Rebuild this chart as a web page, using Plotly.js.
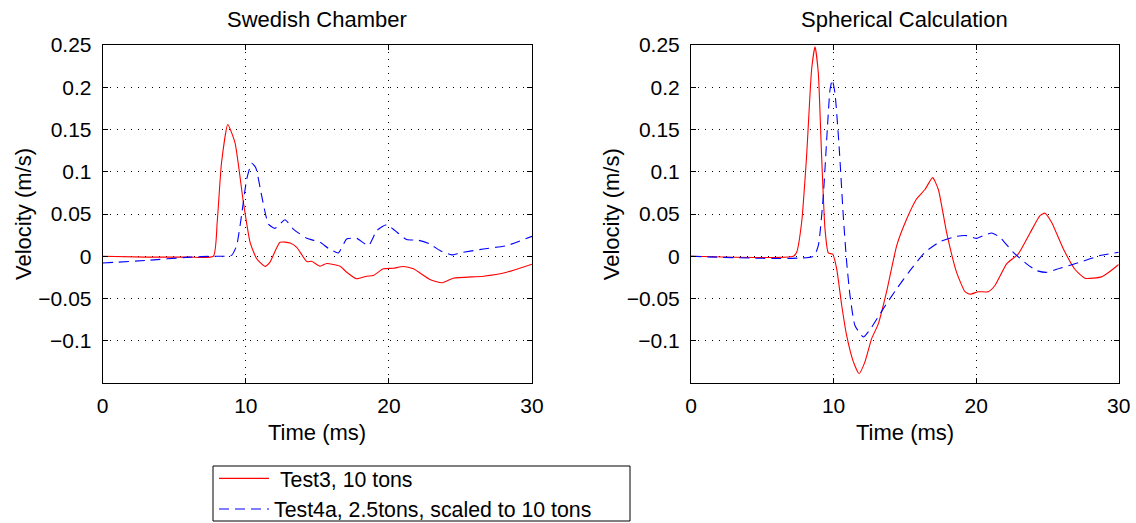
<!DOCTYPE html>
<html><head><meta charset="utf-8">
<script src="https://cdn.plot.ly/plotly-3.0.1.min.js"></script>
<style>html,body{margin:0;padding:0;background:#fff}#chart{width:1136px;height:523px}</style>
</head><body><div id="chart"></div>
<script>
// Swedish Chamber
const swedTest3T = [0,3,6,7.73,8.0,8.3,8.74,9.25,9.83,10.3,10.76,11.34,11.69,12.39,13.1,13.56,14.26,14.6,15.19,15.65,16.59,17.05,17.75,18.45,18.91,19.61,20.31,21.01,21.71,22.87,23.69,24.5,26.6,28.23,30];
const swedTest3V = [0,-0.001,-0.001,0,0.04,0.11,0.156,0.134,0.064,0.0165,-0.003,-0.012,-0.007,0.0165,0.0157,0.0106,-0.0063,-0.006,-0.0118,-0.0086,-0.0118,-0.0189,-0.0267,-0.0236,-0.0228,-0.0149,-0.0142,-0.0122,-0.0149,-0.0275,-0.0314,-0.026,-0.0236,-0.0189,-0.0094];
const swedTest4T = [0,3,6.1,7.7,9.0,9.36,9.7,10.06,10.41,10.69,11.11,11.58,12.04,12.74,13.32,14.26,15.19,15.77,16.47,17.05,17.75,18.57,19.15,19.85,20.43,21.24,22.06,22.87,23.57,24.39,24.97,26.6,28.23,30];
const swedTest4V = [-0.008,-0.005,-0.001,0,0.001,0.0126,0.048,0.091,0.110,0.105,0.0715,0.038,0.033,0.0432,0.0322,0.0212,0.0165,0.0094,0.0039,0.0204,0.0212,0.0126,0.0303,0.0373,0.0303,0.0197,0.0189,0.0145,0.0067,0.0016,0.0039,0.0086,0.0126,0.0236];
// Spherical Calculation
const sphTest3T = [0,7.18,7.41,7.76,8.11,8.46,8.70,8.93,9.16,9.40,9.63,9.94,10.22,10.57,10.92,11.39,11.79,12.2,12.67,13.14,13.72,14.43,15.13,15.83,16.41,16.95,17.35,17.93,18.63,19.22,19.57,20.15,20.85,21.32,22.14,22.96,23.78,24.48,24.83,25.3,26.12,26.94,27.64,28.8,29.39,30];
const sphTest3V = [0,0,0.0047,0.040,0.119,0.221,0.248,0.217,0.119,0.032,0.004,0.0024,-0.015,-0.058,-0.094,-0.125,-0.139,-0.125,-0.0975,-0.080,-0.042,0.0126,0.044,0.068,0.079,0.093,0.079,0.028,-0.019,-0.042,-0.045,-0.042,-0.042,-0.0346,-0.009,0.0028,0.0275,0.048,0.051,0.040,0.0086,-0.0157,-0.026,-0.0244,-0.018,-0.0098];
const sphTest4T = [0,8.58,8.93,9.28,9.56,9.75,9.91,10.1,10.4,10.68,10.92,11.15,11.5,12.09,12.67,13.49,14.43,15.36,16.41,17.47,18.63,19.34,20.04,20.5,21.09,21.67,22.6,23.54,24.25,24.95,25.88,27.29,28.69,30];
const sphTest4V = [0,0,0.0126,0.0715,0.150,0.197,0.209,0.193,0.127,0.048,-0.007,-0.046,-0.082,-0.0955,-0.084,-0.062,-0.0385,-0.017,0.0047,0.0173,0.0236,0.0244,0.0212,0.0244,0.0275,0.0224,0.0047,-0.009,-0.017,-0.019,-0.0142,-0.007,0.0008,0.0047];
const seriesNames = ['\u00a0Test3, 10 tons', 'Test4a, 2.5tons, scaled to 10 tons'];
const panelTitles = ['Swedish Chamber', 'Spherical Calculation'];
const xTitle = 'Time (ms)';
const yTitle = 'Velocity (m/s)';
const xTicks = [0,10,20,30];
const yTicks = [-0.1,-0.05,0,0.05,0.1,0.15,0.2,0.25];
const yTickText = ['\u22120.1','\u22120.05','0','0.05','0.1','0.15','0.2','0.25'];

const FONT = 'Liberation Sans, Arial, Helvetica, sans-serif';
const red = {color:'#ff0000', width:1.1, shape:'spline', smoothing:0.5};
const blue = {color:'#0000ff', width:1.1, dash:'10px,6px', shape:'spline', smoothing:0.5};

const traces = [
  {x:swedTest3T, y:swedTest3V, mode:'lines', line:red, name:seriesNames[0], xaxis:'x', yaxis:'y'},
  {x:swedTest4T, y:swedTest4V, mode:'lines', line:blue, name:seriesNames[1], xaxis:'x', yaxis:'y'},
  {x:sphTest3T, y:sphTest3V, mode:'lines', line:red, name:seriesNames[0], xaxis:'x2', yaxis:'y2', showlegend:false},
  {x:sphTest4T, y:sphTest4V, mode:'lines', line:blue, name:seriesNames[1], xaxis:'x2', yaxis:'y2', showlegend:false}
];

const common = {ticks:'inside', ticklen:5, tickcolor:'#000', showline:true, linecolor:'#000', linewidth:1,
  mirror:'ticks', showgrid:true, gridcolor:'#000', griddash:'1px,6px', gridwidth:1, zeroline:false,
  tickfont:{size:21, color:'#000'}};
function xax(domain, anchor){
  return Object.assign({domain, anchor, range:[0,30], tickvals:xTicks, ticklabelstandoff:4}, common);
}
function yax(domain, anchor){
  return Object.assign({domain, anchor, range:[-0.15,0.25], tickvals:yTicks, ticktext:yTickText, ticklabelstandoff:6}, common);
}
const L1=102.7, R1=532, L2=691, R2=1118.7, T=45, B=383, W=1136, H=523;
const yd = [1-B/H, 1-T/H];
const tf = {size:22, color:'#000'};
const layout = {
  width:W, height:H, margin:{l:0,r:0,t:0,b:0, autoexpand:false}, paper_bgcolor:'#fff', plot_bgcolor:'#fff',
  font:{family:FONT, color:'#000'},
  xaxis: xax([L1/W, R1/W], 'y'),
  yaxis: yax(yd, 'x'),
  xaxis2: xax([L2/W, R2/W], 'y2'),
  yaxis2: yax(yd, 'x2'),
  showlegend:true,
  legend:{x:214/W, y:1-458/H, xanchor:'left', yanchor:'top', borderwidth:0,
    font:{size:21.3,color:'#000'}, tracegroupgap:0, bgcolor:'rgba(0,0,0,0)', itemwidth:50},
  shapes:[
    {type:'rect', xref:'paper', yref:'paper', x0:213/W, x1:630/W, y0:1-521/H, y1:1-466/H, line:{color:'#000', width:1}, layer:'below'}
  ],
  annotations:[
    {text:panelTitles[0], xref:'paper', yref:'paper', x:(L1+R1)/2/W, y:1-20/H, xanchor:'center', yanchor:'middle', showarrow:false, font:tf},
    {text:panelTitles[1], xref:'paper', yref:'paper', x:(L2+R2)/2/W, y:1-20/H, xanchor:'center', yanchor:'middle', showarrow:false, font:tf},
    {text:xTitle, xref:'paper', yref:'paper', x:(L1+R1)/2/W, y:1-432/H, xanchor:'center', yanchor:'middle', showarrow:false, font:tf},
    {text:xTitle, xref:'paper', yref:'paper', x:(L2+R2)/2/W, y:1-432/H, xanchor:'center', yanchor:'middle', showarrow:false, font:tf},
    {text:yTitle, xref:'paper', yref:'paper', x:24/W, y:1-(T+B)/2/H, xanchor:'center', yanchor:'middle', textangle:-90, showarrow:false, font:tf},
    {text:yTitle, xref:'paper', yref:'paper', x:(24+L2-L1)/W, y:1-(T+B)/2/H, xanchor:'center', yanchor:'middle', textangle:-90, showarrow:false, font:tf}
  ]
};
Plotly.newPlot('chart', traces, layout, {staticPlot:true, displayModeBar:false});
</script></body></html>
